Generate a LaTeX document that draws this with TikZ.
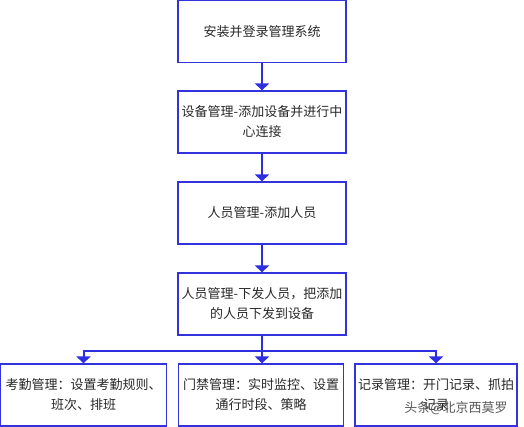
\documentclass[tikz,border=0pt]{standalone}
\usepackage{fontspec}
\setmainfont{Noto Sans CJK SC}
\usetikzlibrary{arrows.meta,positioning}
\definecolor{boxblue}{RGB}{51,51,221}
\definecolor{linkblue}{RGB}{45,45,225}
\definecolor{textgray}{RGB}{40,40,40}

\begin{document}
\begin{tikzpicture}[x=1pt, y=-1pt,
        stepbox/.style={draw=boxblue, line width=1.2pt, minimum width=168pt, minimum height=62pt,
            inner sep=0pt, align=center, text=textgray, font=\fontsize{13}{20}\selectfont},
        flow/.style={linkblue, line width=2pt, -{Triangle[width=14pt,length=7pt]}}]
        \useasboundingbox (0,0) rectangle (524,427);
        % main chain
        \node[stepbox] (install) at (262,31.5) {安装并登录管理系统};
        \node[stepbox] (device) at (262,122) {设备管理-添加设备并进行中\\心连接};
        \node[stepbox] (person) at (262,213) {人员管理-添加人员};
        \node[stepbox] (issue) at (262,304) {人员管理-下发人员，把添加\\的人员下发到设备};
        % modules
        \node[stepbox, minimum width=166pt] (attend) at (83.5,395) {考勤管理：设置考勤规则、\\班次、排班};
        \node[stepbox, minimum width=165pt] (access) at (261,395) {门禁管理：实时监控、设置\\通行时段、策略};
        \node[stepbox, minimum width=162pt] (record) at (436,395) {记录管理：开门记录、抓拍\\记录};
        \draw[flow] (install) -- (device);
        \draw[flow] (device) -- (person);
        \draw[flow] (person) -- (issue);
        \draw[linkblue, line width=2pt] (issue.south) -- ++(0,15) coordinate (split);
        \draw[flow] (split) -| (attend.north);
        \draw[flow] (split) -- (access.north -| split);
        \draw[flow] (split) -| (record.north);
        \node[text=black!65, font=\fontsize{13}{13}\selectfont] (mark) at (456,408) {头条@北京西莫罗};
    \end{tikzpicture}
\end{document}
